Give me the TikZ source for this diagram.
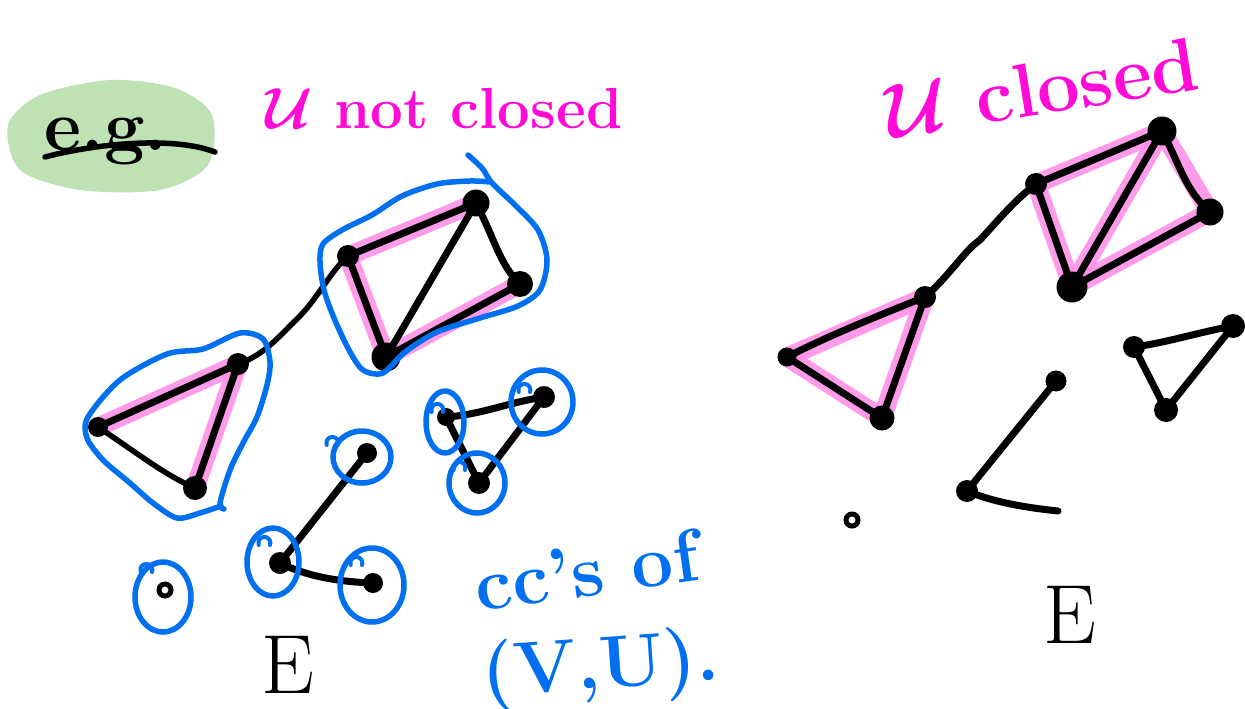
\RequirePackage{fix-cm}
\documentclass[tikz,border=0pt]{standalone}
\usepackage{fontspec}
\definecolor{hlpink}{RGB}{255,145,232}
\definecolor{mag}{RGB}{255,10,215}
\definecolor{ccblue}{RGB}{0,112,240}
\definecolor{egreen}{RGB}{190,226,180}
\tikzset{
  edge/.style={line width=7pt, line cap=round, line join=round, black},
  hl/.style={line width=19pt, line cap=round, hlpink, opacity=0.9},
  dot/.style={circle, fill=black, inner sep=0pt, minimum size=#1},
  dot/.default=18pt,
  odot/.style={circle, draw=black, line width=5pt, inner sep=0pt, minimum size=12pt},
  blob/.style={ccblue, line width=5.5pt, line cap=round, line join=round},
  curl/.pic={\draw[ccblue, line width=4pt, line cap=round] (0,0) arc[start angle=-20, end angle=200, radius=6pt];},
  magtext/.style={text=mag, font=\bfseries\boldmath\fontsize{58}{68}\selectfont, inner sep=0pt},
  bluetext/.style={text=ccblue, font=\bfseries\fontsize{74}{84}\selectfont, inner sep=0pt},
  etext/.style={text=black, font=\fontsize{84}{94}\selectfont, inner sep=0pt}
}
\begin{document}
\begin{tikzpicture}[x=1pt, y=-1pt]
\useasboundingbox (0,0) rectangle (1245,709);

% e.g. badge
\fill[egreen] plot[smooth cycle] coordinates {(8,125) (40,95) (110,80) (175,88) (212,115) (208,165) (160,190) (80,190) (20,170)};
\node[inner sep=0pt, font=\bfseries\fontsize{72}{80}\selectfont, anchor=base] (eg) at (106,150) {e.g.};
\coordinate (ulA) at (45,157);
\coordinate (ulB) at (215,152);
\draw[edge, line width=5.5pt] (ulA) .. controls (90,145) and (170,135) .. (ulB);

% titles
\node[magtext, anchor=base] (t1) at (444,128) {$\mathcal{U}$ not closed};
\node[magtext, anchor=base, rotate=9, font=\bfseries\boldmath\fontsize{76}{86}\selectfont] (t2) at (1046,114) {$\mathcal{U}$ closed};

% ---------- left graph ----------
\coordinate (a1) at (98,427);
\coordinate (a2) at (238,364);
\coordinate (a3) at (195,488);
\coordinate (b1) at (348,256);
\coordinate (b2) at (476,203);
\coordinate (b3) at (520,284);
\coordinate (b4) at (386,357);
\coordinate (c1) at (367,453);
\coordinate (c2) at (280,563);
\coordinate (c3) at (373,583);
\coordinate (e1) at (446,417);
\coordinate (e2) at (544,397);
\coordinate (e3) at (479,483);

\draw[hl] (a1) -- (a2);
\draw[hl] (a2) -- (a3);
\draw[hl] (b1) -- (b2);
\draw[hl] (b1) -- (b4);
\draw[hl] (b3) -- (b4);

\draw[edge] (a1) -- (a2);
\draw[edge] (a2) -- (a3);
\draw[edge, line width=5.5pt] (a1) .. controls (140,455) and (165,475) .. (a3);
\draw[edge, line width=5.5pt] (a2) .. controls (265,355) and (280,335) .. (298,318) .. controls (318,298) and (330,272) .. (b1);
\draw[edge] (b1) -- (b2);
\draw[edge] (b1) -- (b4);
\draw[edge] (b2) -- (b4);
\draw[edge] (b2) .. controls (495,240) and (500,265) .. (b3);
\draw[edge] (b3) -- (b4);
\draw[edge] (c1) -- (c2);
\draw[edge] (c2) .. controls (310,578) and (345,582) .. (c3);
\draw[edge] (e1) .. controls (480,415) and (510,402) .. (e2);
\draw[edge] (e1) -- (e3);
\draw[edge] (e2) -- (e3);

\node[dot=20pt] (na1) at (a1) {};
\node[dot=22pt] (na2) at (a2) {};
\node[dot=24pt] (na3) at (a3) {};
\node[dot=22pt] (nb1) at (b1) {};
\node[dot=27pt] (nb2) at (b2) {};
\node[dot=26pt] (nb3) at (b3) {};
\node[dot=29pt] (nb4) at (b4) {};
\node[dot=20pt] (nc1) at (c1) {};
\node[dot=22pt] (nc2) at (c2) {};
\node[dot=20pt] (nc3) at (c3) {};
\node[dot=18pt] (ne1) at (e1) {};
\node[dot=22pt] (ne2) at (e2) {};
\node[dot=22pt] (ne3) at (e3) {};
\node[odot] (nd) at (165,590) {};

% blue component outlines
\draw[blob] plot[smooth] coordinates {(468,155) (482,168) (492,183) (515,205) (538,230) (547,260) (540,290) (518,306) (480,318) (437,332) (405,352) (383,373) (363,370) (349,350) (334,318) (324,290) (320,262) (323,244) (342,230) (372,215) (402,196) (437,184) (470,181) (490,182)};
\draw[blob] plot[smooth] coordinates {(224,509) (220,503) (230,470) (243,443) (257,417) (267,385) (270,362) (263,339) (240,333) (203,349) (167,354) (120,380) (88,417) (87,438) (103,460) (130,483) (153,503) (177,518) (200,513) (221,506)};
\draw[blob] (362,457) ellipse [x radius=29pt, y radius=26pt];
\draw[blob] (273,562) ellipse [x radius=26pt, y radius=34pt];
\draw[blob] (372,585) ellipse [x radius=32pt, y radius=37pt];
\draw[blob] (163,597) ellipse [x radius=28pt, y radius=35pt];
\draw[blob] (445,422) ellipse [x radius=19pt, y radius=31pt];
\draw[blob] (542,402) ellipse [x radius=31pt, y radius=32pt];
\draw[blob] (477,483) ellipse [x radius=28pt, y radius=30pt];
\pic at (338,445) {curl};
\pic at (270,545) {curl};
\pic at (362,565) {curl};
\pic at (152,572) {curl};
\pic at (443,412) {curl};
\pic at (530,392) {curl};
\pic at (465,470) {curl};

% texts left
\node[bluetext, anchor=base, rotate=8] (cc) at (590,596) {cc's of};
\node[bluetext, anchor=base, rotate=4] (vu) at (602,688) {(V,U).};
\node[etext, anchor=base] (E1) at (288,693) {E};

% ---------- right graph ----------
\coordinate (f1) at (787,357);
\coordinate (f2) at (925,297);
\coordinate (f3) at (882,418);
\coordinate (g1) at (1036,184);
\coordinate (g2) at (1162,131);
\coordinate (g3) at (1210,212);
\coordinate (g4) at (1072,287);
\coordinate (h1) at (1056,381);
\coordinate (h2) at (967,491);
\coordinate (h3) at (1058,511);
\coordinate (k1) at (1134,347);
\coordinate (k2) at (1233,326);
\coordinate (k3) at (1166,410);

\draw[hl] (f1) -- (f2);
\draw[hl] (f1) -- (f3);
\draw[hl] (f2) -- (f3);
\draw[hl] (g1) -- (g2);
\draw[hl] (g1) -- (g4);
\draw[hl] (g2) -- (g4);
\draw[hl] (g2) -- (g3);
\draw[hl] (g3) -- (g4);

\draw[edge] (f1) .. controls (830,335) and (880,315) .. (f2);
\draw[edge] (f1) -- (f3);
\draw[edge] (f2) -- (f3);
\draw[edge] (f2) .. controls (950,275) and (965,250) .. (980,240) .. controls (1000,218) and (1015,200) .. (g1);
\draw[edge] (g1) -- (g2);
\draw[edge] (g1) -- (g4);
\draw[edge] (g2) -- (g4);
\draw[edge] (g2) .. controls (1180,165) and (1185,190) .. (g3);
\draw[edge] (g3) -- (g4);
\draw[edge] (h1) -- (h2);
\draw[edge] (h2) .. controls (995,503) and (1030,508) .. (h3);
\draw[edge] (k1) .. controls (1165,343) and (1200,332) .. (k2);
\draw[edge] (k1) -- (k3);
\draw[edge] (k2) -- (k3);

\node[dot=19pt] (nf1) at (f1) {};
\node[dot=22pt] (nf2) at (f2) {};
\node[dot=25pt] (nf3) at (f3) {};
\node[dot=22pt] (ng1) at (g1) {};
\node[dot=29pt] (ng2) at (g2) {};
\node[dot=27pt] (ng3) at (g3) {};
\node[dot=31pt] (ng4) at (g4) {};
\node[dot=21pt] (nh1) at (h1) {};
\node[dot=22pt] (nh2) at (h2) {};
\node[dot=22pt] (nk1) at (k1) {};
\node[dot=24pt] (nk2) at (k2) {};
\node[dot=24pt] (nk3) at (k3) {};
\node[odot] (ni) at (852,520) {};

\node[etext, anchor=base] (E2) at (1070,643) {E};
\end{tikzpicture}
\end{document}
